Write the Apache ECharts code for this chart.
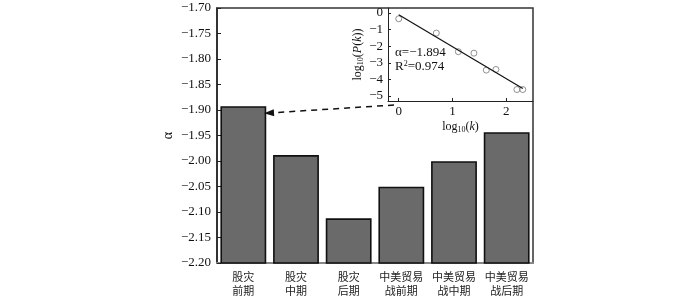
<!DOCTYPE html>
<html><head><meta charset="utf-8">
<script src="https://cdn.jsdelivr.net/npm/echarts@6/dist/echarts.min.js"></script>
<style>html,body{margin:0;padding:0;background:#fff}#c{width:700px;height:299px}</style>
</head><body><div id="c"></div>
<script>
// Main bar chart data
const categories = ['股灾\n前期', '股灾\n中期', '股灾\n后期', '中美贸易\n战前期', '中美贸易\n战中期', '中美贸易\n战后期'];
const alphaValues = [-1.894, -1.990, -2.114, -2.052, -2.002, -1.945];
const yMin = -2.2, yMax = -1.7;
// Inset: log10(k) vs log10(P(k)) points
const insetLogK = [0, 0.70, 1.11, 1.40, 1.63, 1.81, 2.20, 2.31];
const insetLogP = [-0.35, -1.21, -2.33, -2.42, -3.44, -3.40, -4.61, -4.61];
// Fitted line endpoints
const fitLogK = [0, 2.31];
const fitLogP = [-0.10, -4.55];
const insetXTicks = [0, 1, 2];
const insetYTicks = [0, -1, -2, -3, -4, -5];

const serif = '"Liberation Serif","DejaVu Serif",serif';
const cjk = '"Noto Sans CJK SC","Noto Sans",sans-serif';
const minus = v => String(v).replace('-', '\u2212');

const chart = echarts.init(document.getElementById('c'));
chart.setOption({
  animation: false,
  backgroundColor: '#fff',
  grid: [
    {left: 217, top: 8, right: 167, bottom: 36, show: true, borderColor: '#333', borderWidth: 1.5, backgroundColor: 'transparent'},
    {left: 388, top: 8, width: 145, height: 93, show: false}
  ],
  xAxis: [
    {
      type: 'category', gridIndex: 0, data: categories,
      axisLine: {lineStyle: {color: '#888', width: 2}},
      axisTick: {show: false},
      axisLabel: {fontFamily: cjk, fontSize: 11, color: '#222', lineHeight: 14, margin: 7, interval: 0}
    },
    {
      type: 'value', gridIndex: 1, min: -0.2, max: 2.5,
      axisLine: {show: true, onZero: false, lineStyle: {color: '#222', width: 1}},
      axisTick: {show: true, inside: true, length: 3, customValues: insetXTicks, lineStyle: {color: '#222'}},
      axisLabel: {customValues: insetXTicks, fontFamily: serif, fontSize: 13, color: '#111', margin: 4, formatter: v => minus(v)},
      splitLine: {show: false},
      name: 'log{s|10}({i|k})', nameLocation: 'middle', nameGap: 19,
      nameTextStyle: {fontFamily: serif, fontSize: 12, color: '#111',
        rich: {s: {fontSize: 8, fontFamily: serif, padding: [6,0,0,0]}, i: {fontStyle: 'italic', fontFamily: serif, fontSize: 12}}}
    }
  ],
  yAxis: [
    {
      type: 'value', gridIndex: 0, min: yMin, max: yMax, interval: 0.05,
      axisLine: {show: true, lineStyle: {color: '#222', width: 1.5}},
      axisTick: {show: true, inside: true, length: 4, lineStyle: {color: '#222'}},
      axisLabel: {fontFamily: serif, fontSize: 13, color: '#111', margin: 6, formatter: v => minus(v.toFixed(2))},
      splitLine: {show: false},
      name: 'α', nameLocation: 'middle', nameGap: 42, nameRotate: 90,
      nameTextStyle: {fontFamily: serif, fontSize: 14, color: '#111'}
    },
    {
      type: 'value', gridIndex: 1, min: -5.3, max: 0.3,
      axisLine: {show: true, onZero: false, lineStyle: {color: '#222', width: 1}},
      axisTick: {show: true, inside: true, length: 3, customValues: insetYTicks, lineStyle: {color: '#222'}},
      axisLabel: {customValues: insetYTicks, fontFamily: serif, fontSize: 13, color: '#111', margin: 5, formatter: v => minus(v)},
      splitLine: {show: false},
      name: 'log{s|10}({i|P}({i|k}))', nameLocation: 'middle', nameGap: 22, nameRotate: 90,
      nameTextStyle: {fontFamily: serif, fontSize: 12, color: '#111',
        rich: {s: {fontSize: 8, fontFamily: serif, padding: [6,0,0,0]}, i: {fontStyle: 'italic', fontFamily: serif, fontSize: 12}}}
    }
  ],
  series: [
    {
      type: 'custom', xAxisIndex: 0, yAxisIndex: 0,
      data: alphaValues.map((v, i) => [i, v]),
      encode: {x: 0, y: 1},
      renderItem: function (params, api) {
        const top = api.coord([api.value(0), api.value(1)]);
        const base = api.coord([api.value(0), yMin]);
        const w = api.size([1, 0])[0] * 0.84;
        return {
          type: 'rect',
          shape: {x: top[0] - w / 2, y: top[1], width: w, height: base[1] - top[1]},
          style: {fill: '#6a6a6a', stroke: '#111', lineWidth: 1.6}
        };
      },
      markLine: {
        silent: true, symbol: ['none', 'triangle'], symbolSize: [7, 10],
        lineStyle: {type: [6, 5], color: '#111', width: 1.5},
        label: {show: false},
        data: [[{x: 394, y: 105}, {x: 269, y: 113}]]
      }
    },
    {
      type: 'line', xAxisIndex: 1, yAxisIndex: 1,
      data: fitLogK.map((k, i) => [k, fitLogP[i]]),
      symbol: 'none', lineStyle: {color: '#111', width: 1.2}
    },
    {
      type: 'scatter', xAxisIndex: 1, yAxisIndex: 1,
      data: insetLogK.map((k, i) => [k, insetLogP[i]]),
      symbol: 'circle', symbolSize: 6,
      itemStyle: {color: 'rgba(255,255,255,0)', borderColor: '#777', borderWidth: 1}
    }
  ],
  graphic: [
    {type: 'text', left: 395, top: 46, style: {text: 'α=\u22121.894', font: '13px ' + serif, fill: '#111'}},
    {type: 'text', left: 395, top: 60, style: {text: 'R{s|2}=0.974', font: '13px ' + serif, fill: '#111',
      rich: {s: {fontSize: 8, fontFamily: serif, verticalAlign: 'top', padding: [0,0,5,0]}}}}
  ]
});
</script>
</body></html>
